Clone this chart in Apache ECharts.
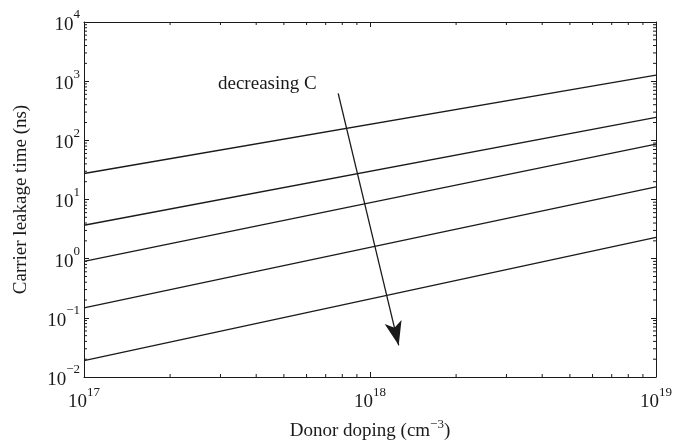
<!DOCTYPE html>
<html><head><meta charset="utf-8">
<script src="https://cdn.jsdelivr.net/npm/echarts@6/dist/echarts.min.js"></script>
<style>html,body{margin:0;padding:0;background:#fff}#c{width:695px;height:445px}</style>
</head><body><div id="c"></div>
<script>
// ---- data ----
const dopingEnds = [1e17, 1e19];
const curveA = [27.5, 1268];
const curveB = [3.67, 244];
const curveC = [0.90, 86];
const curveD = [0.147, 16.3];
const curveE = [0.0189, 2.30];
const arrowFrom = [7.74e17, 622];
const arrowTo = [1.26e18, 0.0343];
const annotationText = 'decreasing C';
const xMin = 1e17, xMax = 1e19, yMin = 1e-2, yMax = 1e4;

const FONT = '"Liberation Serif", "DejaVu Serif", serif';
const INK = '#1a1a1a';

function zip(ys) { return dopingEnds.map((x, i) => [x, ys[i]]); }
function supFmt(v) {
  const e = Math.round(Math.log10(v));
  return '{b|10}{s|' + String(e).replace('-', '\u2212') + '}';
}
const rich = {
  b: { fontFamily: FONT, fontSize: 19, color: INK, padding: [6, 0, 0, 0] },
  s: { fontFamily: FONT, fontSize: 13, color: INK, padding: [0, 0, 14, 0] }
};

// minor ticks (2..9 per decade)
const minorTicks = [];
for (let k = 17; k < 19; k++) for (let m = 2; m <= 9; m++) minorTicks.push([m * Math.pow(10, k), 1, 0]);
for (let k = -2; k < 4; k++) for (let m = 2; m <= 9; m++) minorTicks.push([1e18, m * Math.pow(10, k), 1]);

const lineStyle = { color: INK, width: 1.3 };
const mk = (ys) => ({ type: 'line', data: zip(ys), showSymbol: false, symbol: 'none', lineStyle, silent: true, z: 3 });

const axisCommon = {
  type: 'log', logBase: 10,
  axisLine: { show: true, lineStyle: { color: INK, width: 1 } },
  axisTick: { show: true, inside: true, length: 5, lineStyle: { color: INK } },
  splitLine: { show: false }, minorTick: { show: false }
};

const chart = echarts.init(document.getElementById('c'), null, { renderer: 'canvas' });
chart.setOption({
  animation: false,
  backgroundColor: '#fff',
  grid: { left: 84, right: 39, top: 22, bottom: 68, containLabel: false, outerBoundsMode: 'none' },
  xAxis: [
    Object.assign({}, axisCommon, {
      position: 'bottom', min: xMin, max: xMax,
      axisLabel: { formatter: supFmt, rich, margin: 9 },
      name: 'Donor doping (cm{s|\u22123})', nameLocation: 'middle', nameGap: 41,
      nameTextStyle: { fontFamily: FONT, fontSize: 19, color: INK, rich: { s: { fontFamily: FONT, fontSize: 13, color: INK, padding: [0, 0, 14, 0] } } }
    }),
    Object.assign({}, axisCommon, { position: 'top', min: xMin, max: xMax, axisLabel: { show: false } })
  ],
  yAxis: [
    Object.assign({}, axisCommon, {
      position: 'left', min: yMin, max: yMax, interval: 1,
      axisLabel: { formatter: supFmt, rich, margin: 4 },
      name: 'Carrier leakage time (ns)', nameLocation: 'middle', nameGap: 53,
      nameTextStyle: { fontFamily: FONT, fontSize: 19, color: INK }
    }),
    Object.assign({}, axisCommon, { position: 'right', min: yMin, max: yMax, interval: 1, axisLabel: { show: false } })
  ],
  series: [
    mk(curveA), mk(curveB), mk(curveC), mk(curveD),
    Object.assign(mk(curveE), {
      markLine: {
        silent: true, animation: false,
        symbol: ['none', 'arrow'], symbolSize: [13, 24],
        label: { show: false },
        lineStyle: { color: INK, width: 1.3, type: 'solid' },
        data: [[{ coord: arrowFrom, symbol: 'none' }, { coord: arrowTo, symbol: 'arrow' }]]
      }
    }),
    {
      type: 'custom', data: minorTicks, encode: { x: 0, y: 1 }, silent: true, clip: false, z: 4,
      renderItem: function (params, api) {
        const cs = params.coordSys;
        const p = api.coord([api.value(0), api.value(1)]);
        const st = { stroke: INK, lineWidth: 1 };
        if (api.value(2) === 0) {
          const b = cs.y + cs.height, t = cs.y;
          return { type: 'group', children: [
            { type: 'line', shape: { x1: p[0], y1: b, x2: p[0], y2: b - 3 }, style: st },
            { type: 'line', shape: { x1: p[0], y1: t, x2: p[0], y2: t + 3 }, style: st }
          ] };
        }
        const l = cs.x, r = cs.x + cs.width;
        return { type: 'group', children: [
          { type: 'line', shape: { x1: l, y1: p[1], x2: l + 3, y2: p[1] }, style: st },
          { type: 'line', shape: { x1: r, y1: p[1], x2: r - 3, y2: p[1] }, style: st }
        ] };
      }
    }
  ],
  graphic: [{
    type: 'text', left: 218, top: 75, silent: true,
    style: { text: annotationText, font: '19px ' + FONT, fill: INK }
  }]
});
</script></body></html>
